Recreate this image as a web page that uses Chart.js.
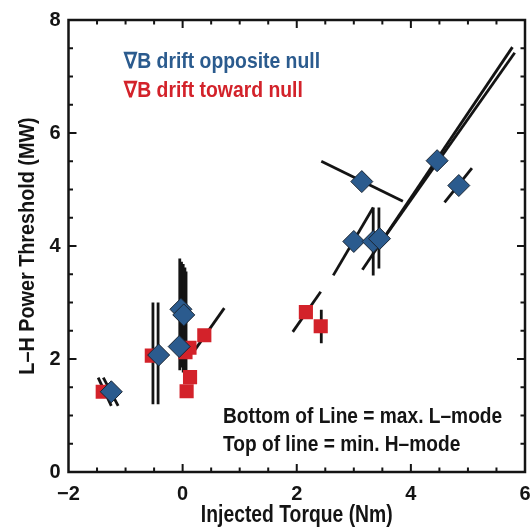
<!DOCTYPE html>
<html>
<head>
<meta charset="utf-8">
<script src="https://cdn.jsdelivr.net/npm/chart.js@4/dist/chart.umd.min.js"></script>
<style>
  html, body { margin: 0; padding: 0; background: #fff; }
  #wrap { width: 531px; height: 528px; }
</style>
</head>
<body>
<div id="wrap"><canvas id="lh" width="531" height="528"></canvas></div>
<script>
// grad-B drift opposite null (blue diamonds)
const blueX = [-1.25, -0.42, -0.06, -0.03, 0.02, 3.00, 3.34, 3.45, 3.14, 4.46, 4.84];
const blueY = [ 1.42,  2.07,  2.22,  2.88, 2.78, 4.08, 4.08, 4.13, 5.14, 5.51, 5.07];

// grad-B drift toward null (red squares)
const redX = [-1.40, -0.54, 0.05, 0.12, 0.38, 0.13, 0.07, 2.16, 2.42];
const redY = [ 1.42,  2.06, 2.12, 2.20, 2.42, 1.68, 1.43, 2.83, 2.58];

// L-mode / H-mode bracket lines: [x1, y1, x2, y2]
const segments = [
  [-1.48, 1.67, -1.25, 1.17],
  [-1.39, 1.67, -1.13, 1.17],
  [-0.52, 3.00, -0.52, 1.20],
  [-0.43, 3.00, -0.43, 1.20],
  [-0.05, 3.78, -0.05, 1.80],
  [-0.02, 3.72, -0.02, 1.85],
  [ 0.01, 3.68,  0.01, 1.76],
  [ 0.04, 3.62,  0.04, 1.78],
  [ 0.06, 3.55,  0.06, 1.72],
  [ 0.20, 2.14,  0.73, 2.90],
  [ 1.93, 2.48,  2.42, 3.19],
  [ 2.43, 2.87,  2.43, 2.28],
  [ 2.64, 3.48,  3.34, 4.68],
  [ 3.34, 4.68,  3.34, 3.48],
  [ 3.44, 4.68,  3.44, 3.60],
  [ 2.43, 5.50,  3.86, 4.79],
  [ 3.15, 3.58,  5.78, 7.52],
  [ 3.50, 4.10,  5.82, 7.42],
  [ 4.59, 4.77,  5.07, 5.38]
];

const xRange = [-2, 6];
const yRange = [0, 8];
const tickStep = 2;
const minorStep = 0.5;

const legendLines = ['\u2207B drift opposite null', '\u2207B drift toward null'];
const noteLines = ['Bottom of Line = max. L\u2013mode', 'Top of line = min. H\u2013mode'];
const xTitle = 'Injected Torque (Nm)';
const yTitle = 'L\u2013H Power Threshold (MW)';

const BLUE = '#2b5b8e';
const RED = '#d3222a';
const INK = '#141414';
const FONT = '"Liberation Sans", Arial, Helvetica, sans-serif';

function narrowText(ctx, str, x, y, font, color, sx, rot) {
  ctx.save();
  ctx.font = font;
  ctx.fillStyle = color;
  ctx.textBaseline = 'alphabetic';
  ctx.translate(x, y);
  if (rot) ctx.rotate(rot);
  ctx.scale(sx, 1);
  ctx.textAlign = rot ? 'center' : 'left';
  ctx.fillText(str, 0, 0);
  ctx.restore();
}

const framePlugin = {
  id: 'frame',
  afterDatasetsDraw(chart) {
    const { ctx, chartArea: a, scales: { x, y } } = chart;
    ctx.save();
    ctx.strokeStyle = INK;
    ctx.lineWidth = 2;
    ctx.beginPath();
    for (let v = xRange[0] + minorStep; v < xRange[1]; v += minorStep) {
      const px = x.getPixelForValue(v);
      const len = Math.abs(v % tickStep) < 1e-9 ? 8 : 4.5;
      ctx.moveTo(px, a.bottom); ctx.lineTo(px, a.bottom - len);
      ctx.moveTo(px, a.top); ctx.lineTo(px, a.top + len);
    }
    for (let v = yRange[0] + minorStep; v < yRange[1]; v += minorStep) {
      const py = y.getPixelForValue(v);
      const len = Math.abs(v % tickStep) < 1e-9 ? 8 : 4.5;
      ctx.moveTo(a.left, py); ctx.lineTo(a.left + len, py);
      ctx.moveTo(a.right, py); ctx.lineTo(a.right - len, py);
    }
    ctx.stroke();
    ctx.lineWidth = 2.5;
    ctx.strokeRect(a.left, a.top, a.right - a.left, a.bottom - a.top);
    ctx.restore();

    // legend and note text
    narrowText(ctx, legendLines[0], 124, 68, 'bold 22px ' + FONT, BLUE, 0.88);
    narrowText(ctx, legendLines[1], 124, 97, 'bold 22px ' + FONT, RED, 0.88);
    narrowText(ctx, noteLines[0], 223, 423, 'bold 22px ' + FONT, INK, 0.87);
    narrowText(ctx, noteLines[1], 223, 451, 'bold 22px ' + FONT, INK, 0.87);

    // axis titles
    narrowText(ctx, xTitle, (a.left + a.right) / 2, 522, 'bold 23px ' + FONT, INK, 0.84, 0.000001);
    narrowText(ctx, yTitle, 34, (a.top + a.bottom) / 2, 'bold 22px ' + FONT, INK, 0.9, -Math.PI / 2);
  }
};

const pts = (xs, ys) => xs.map((v, i) => ({ x: v, y: ys[i] }));

const datasets = [
  {
    label: legendLines[0],
    data: pts(blueX, blueY),
    pointStyle: 'rectRot',
    pointRadius: 11,
    backgroundColor: BLUE,
    borderColor: '#1b2633',
    borderWidth: 1,
    order: 0
  },
  {
    label: legendLines[1],
    data: pts(redX, redY),
    pointStyle: 'rect',
    pointRadius: 10,
    backgroundColor: RED,
    borderColor: RED,
    borderWidth: 0,
    order: 1
  },
  ...segments.map(s => ({
    data: [{ x: s[0], y: s[1] }, { x: s[2], y: s[3] }],
    showLine: true,
    borderColor: INK,
    borderWidth: 2.8,
    pointRadius: 0,
    order: 2
  }))
];

const tickFont = { family: FONT, size: 20, weight: 'bold' };
const minusLabel = v => (v < 0 ? '\u2212' + Math.abs(v) : String(v));

new Chart(document.getElementById('lh').getContext('2d'), {
  type: 'scatter',
  data: { datasets },
  options: {
    responsive: false,
    animation: false,
    devicePixelRatio: 1,
    events: [],
    layout: { autoPadding: false, padding: { top: 20, right: 6, left: 0, bottom: 0 } },
    plugins: { legend: { display: false }, tooltip: { enabled: false } },
    scales: {
      x: {
        type: 'linear',
        min: xRange[0], max: xRange[1],
        grid: { display: false, drawTicks: false },
        border: { display: false },
        ticks: { stepSize: tickStep, color: INK, font: tickFont, padding: 10, callback: minusLabel },
        afterFit: s => { s.height = 56; s.paddingLeft = 0; s.paddingRight = 0; }
      },
      y: {
        type: 'linear',
        min: yRange[0], max: yRange[1],
        grid: { display: false, drawTicks: false },
        border: { display: false },
        ticks: { stepSize: tickStep, color: INK, font: tickFont, padding: 8 },
        afterFit: s => { s.width = 68.5; s.paddingTop = 0; s.paddingBottom = 0; }
      }
    }
  },
  plugins: [framePlugin]
});
</script>
</body>
</html>
